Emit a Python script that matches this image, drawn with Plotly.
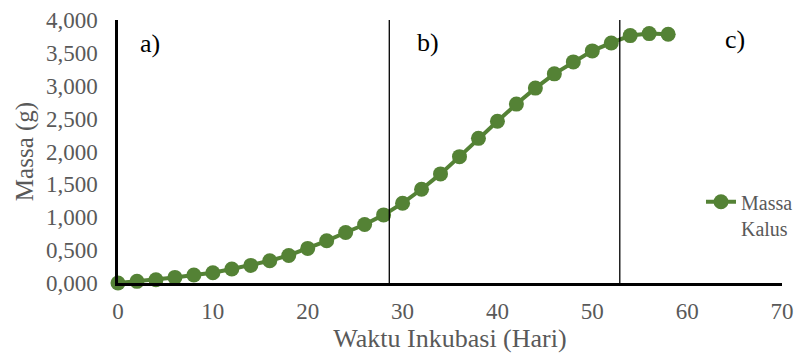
import plotly.graph_objects as go

# Data
hari = [0, 2, 4, 6, 8, 10, 12, 14, 16, 18, 20, 22, 24, 26, 28,
        30, 32, 34, 36, 38, 40, 42, 44, 46, 48, 50, 52, 54, 56, 58]
massa = [0.000, 0.025, 0.050, 0.085, 0.121, 0.156, 0.212, 0.268, 0.338, 0.419,
         0.526, 0.642, 0.768, 0.890, 1.036, 1.214, 1.426, 1.659, 1.922, 2.200,
         2.460, 2.721, 2.964, 3.181, 3.363, 3.530, 3.651, 3.763, 3.793, 3.783]
batas_fase = [28.6, 52.9]
label_fase = ["a)", "b)", "c)"]
label_x = [3.4, 32.7, 65.0]
label_y = [3.65, 3.66, 3.71]

GREEN = "rgb(84,130,53)"
GRAY = "#595959"
FONT = "Liberation Serif, Times New Roman, serif"

fig = go.Figure()
fig.add_trace(go.Scatter(
    x=hari, y=massa, mode="lines+markers", name="Massa<br>Kalus",
    line=dict(color=GREEN, width=4),
    marker=dict(color=GREEN, size=15),
    cliponaxis=False,
))

for xv in batas_fase:
    fig.add_shape(type="line", x0=xv, x1=xv, y0=0, y1=4.09,
                  xref="x", yref="y", line=dict(color="black", width=1.3))

for t, xv, yv in zip(label_fase, label_x, label_y):
    fig.add_annotation(x=xv, y=yv, text=t, showarrow=False,
                       font=dict(family=FONT, size=26, color="black"))

fig.update_layout(
    width=800, height=353,
    margin=dict(l=118, r=18, t=20, b=70, autoexpand=False),
    paper_bgcolor="white", plot_bgcolor="white",
    separators=",.",
    font=dict(family=FONT, color=GRAY),
    showlegend=True,
    legend=dict(x=0.878, y=0.383, xanchor="left", yanchor="top",
                font=dict(family=FONT, size=20, color=GRAY),
                bgcolor="rgba(0,0,0,0)", valign="top"),
    xaxis=dict(range=[0, 70], tickvals=[0, 10, 20, 30, 40, 50, 60, 70],
               automargin=False,
               showgrid=False, zeroline=False, showline=True,
               linecolor="black", linewidth=2.5, ticks="",
               ticklabelstandoff=6,
               tickfont=dict(family=FONT, size=23, color=GRAY),
               title=dict(text="Waktu Inkubasi (Hari)", standoff=6,
                          font=dict(family=FONT, size=26, color=GRAY))),
    yaxis=dict(range=[0, 4], tickvals=[0, 0.5, 1, 1.5, 2, 2.5, 3, 3.5, 4],
               tickformat=".3f", automargin=False,
               showgrid=False, zeroline=False, showline=True,
               linecolor="black", linewidth=2.5, ticks="",
               ticklabelstandoff=13,
               tickfont=dict(family=FONT, size=23, color=GRAY),
               title=dict(text="Massa (g)", standoff=6,
                          font=dict(family=FONT, size=25, color=GRAY))),
)

fig.write_html("out.html", config={"displayModeBar": False},
               post_script="document.body.style.margin='0';")
